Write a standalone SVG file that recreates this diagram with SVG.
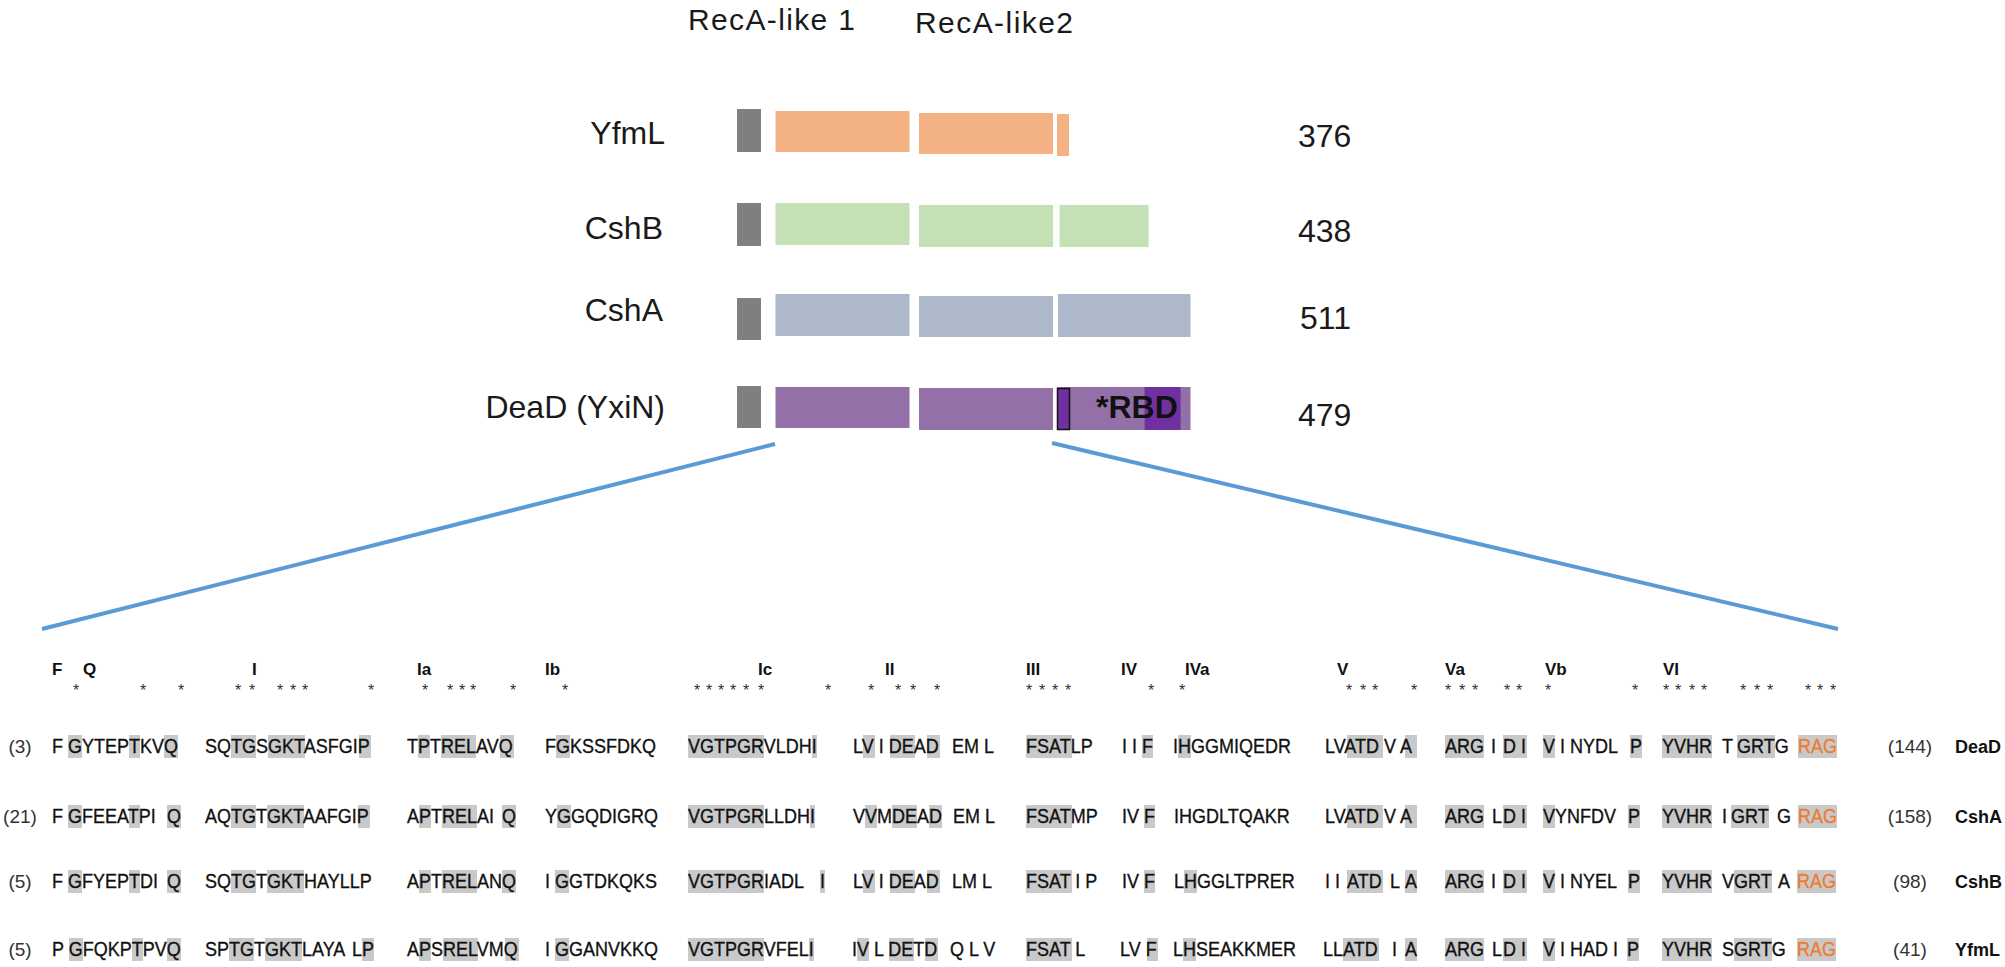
<svg xmlns="http://www.w3.org/2000/svg" width="2005" height="967" viewBox="0 0 2005 967">
<style>
text{font-family:"Liberation Sans",Arial,sans-serif;fill:#111}
.s{font-size:18px;stroke:#111;stroke-width:0.3}
.o{fill:#ED7D31;stroke:#ED7D31}
.h{fill:#C9C9C9}
.n{font-size:19px;fill:#333;text-anchor:middle}
.nm{font-size:18px;font-weight:bold}
.m{font-size:17px;font-weight:bold}
.a{font-size:16px;fill:#333}
.lbl{font-size:32px;text-anchor:end;fill:#1a1a1a}
.len{font-size:32px;fill:#1a1a1a}
.ttl{font-size:30px;fill:#1a1a1a}
.gb{fill:#7F7F7F}
.yf{fill:#F4B183}
.cb{fill:#C5E0B4}
.ca{fill:#ADB9CA}
.dd{fill:#9370A8}
.dk{fill:#7030A0}
.ln{stroke:#5B9BD5;stroke-width:4;fill:none}
</style>

<text class="ttl" x="688" y="30" textLength="167" lengthAdjust="spacing">RecA-like 1</text>
<text class="ttl" x="915" y="33" textLength="158" lengthAdjust="spacing">RecA-like2</text>

<g id="YfmL">
<text class="lbl" x="665" y="144">YfmL</text>
<rect class="gb" x="737" y="109" width="24" height="43"/>
<rect class="yf" x="775.5" y="111" width="134" height="41"/>
<rect class="yf" x="919" y="113" width="134" height="41"/>
<rect class="yf" x="1057" y="114" width="12" height="42"/>
<text class="len" x="1298" y="147">376</text>
</g>

<g id="CshB">
<text class="lbl" x="663" y="239">CshB</text>
<rect class="gb" x="737" y="203" width="24" height="43"/>
<rect class="cb" x="775.5" y="203" width="134" height="42"/>
<rect class="cb" x="919" y="205" width="134" height="42"/>
<rect class="cb" x="1059.6" y="205" width="89" height="42"/>
<text class="len" x="1298" y="242">438</text>
</g>

<g id="CshA">
<text class="lbl" x="663" y="321">CshA</text>
<rect class="gb" x="737" y="298" width="24" height="42"/>
<rect class="ca" x="775.5" y="294" width="134" height="42"/>
<rect class="ca" x="919" y="296" width="134" height="41"/>
<rect class="ca" x="1058" y="294" width="132.5" height="43"/>
<text class="len" x="1300" y="329">511</text>
</g>

<g id="DeaD">
<text class="lbl" x="665" y="418">DeaD (YxiN)</text>
<rect class="gb" x="737" y="386" width="24" height="42"/>
<rect class="dd" x="775.5" y="387" width="134" height="41"/>
<rect class="dd" x="919" y="388" width="134" height="42"/>
<rect class="dd" x="1057" y="387" width="133.5" height="43"/>
<rect class="dk" x="1144.6" y="387" width="36" height="43"/>
<rect class="dk" x="1057.5" y="388.5" width="12" height="41" stroke="#111" stroke-width="1.5"/>
<text x="1096" y="418" font-size="32" font-weight="bold">*RBD</text>
<text class="len" x="1298" y="426">479</text>
</g>

<g id="connectors">
<line class="ln" x1="775" y1="444" x2="42" y2="629"/>
<line class="ln" x1="1052" y1="443" x2="1838" y2="629"/>
</g>

<g id="motifs">
<text class="m" y="675"><tspan x="52">F</tspan><tspan x="83">Q</tspan><tspan x="252">I</tspan><tspan x="417">Ia</tspan><tspan x="545">Ib</tspan><tspan x="758">Ic</tspan><tspan x="885">II</tspan><tspan x="1026">III</tspan><tspan x="1121">IV</tspan><tspan x="1185">IVa</tspan><tspan x="1337">V</tspan><tspan x="1445">Va</tspan><tspan x="1545">Vb</tspan><tspan x="1663">VI</tspan></text>
<text class="a" y="696" x="73 140 178 235 249 277 290 302 368 422 447 459 470 510 562 694 706 718 730 743 758 825 868 895 910 934 1026 1039 1052 1065 1148 1179 1346 1360 1372 1411 1445 1459 1472 1504 1516 1545 1632 1663 1675 1689 1701 1740 1754 1767 1805 1817 1830">*****************************************************</text>
</g>

<g id="row-DeaD">
<g class="h">
<rect x="68" y="735" width="14" height="23"/><rect x="129" y="735" width="11" height="23"/><rect x="164" y="735" width="14" height="23"/>
<rect x="231" y="735" width="25" height="23"/><rect x="268" y="735" width="37" height="23"/><rect x="359" y="735" width="12" height="23"/>
<rect x="418" y="735" width="12" height="23"/><rect x="441" y="735" width="35" height="23"/><rect x="500" y="735" width="14" height="23"/>
<rect x="556" y="735" width="14" height="23"/><rect x="688" y="735" width="76" height="23"/><rect x="812" y="735" width="5" height="23"/>
<rect x="863" y="735" width="12" height="23"/><rect x="890" y="735" width="25" height="23"/><rect x="927" y="735" width="13" height="23"/>
<rect x="1026" y="735" width="46" height="23"/><rect x="1142" y="735" width="11" height="23"/><rect x="1178" y="735" width="13" height="23"/>
<rect x="1347" y="735" width="36" height="23"/><rect x="1405" y="735" width="12" height="23"/><rect x="1445" y="735" width="39" height="23"/>
<rect x="1503" y="735" width="24" height="23"/><rect x="1543" y="735" width="12" height="23"/><rect x="1630" y="735" width="12" height="23"/>
<rect x="1662" y="735" width="50" height="23"/><rect x="1737" y="735" width="38" height="23"/><rect x="1798" y="735" width="39" height="23"/>
</g>
<text class="n" x="20" y="753">(3)</text>
<text class="s" y="0" transform="matrix(1 0 0 1.12 0 753)"><tspan x="52">F GYTEPTKVQ</tspan><tspan x="205">SQTGSGKTASFGIP</tspan><tspan x="407">TPTRELAVQ</tspan><tspan x="545">FGKSSFDKQ</tspan><tspan x="688">VGTPGRVLDHI</tspan><tspan x="853">LV I DEAD</tspan><tspan x="952">EM L</tspan><tspan x="1026">FSATLP</tspan><tspan x="1122">I I F</tspan><tspan x="1173">IHGGMIQEDR</tspan><tspan x="1325">LVATD V A</tspan><tspan x="1445">ARG</tspan><tspan x="1491">I</tspan><tspan x="1503">D I</tspan><tspan x="1543">V I NYDL</tspan><tspan x="1630">P</tspan><tspan x="1662">YVHR</tspan><tspan x="1722">T</tspan><tspan x="1737">GRTG</tspan><tspan x="1798" class="o">RAG</tspan></text>
<text class="n" x="1910" y="753">(144)</text>
<text class="nm" x="1955" y="753">DeaD</text>
</g>

<g id="row-CshA">
<g class="h">
<rect x="68" y="805" width="14" height="23"/><rect x="129" y="805" width="11" height="23"/><rect x="167" y="805" width="14" height="23"/>
<rect x="231" y="805" width="25" height="23"/><rect x="267" y="805" width="37" height="23"/><rect x="358" y="805" width="12" height="23"/>
<rect x="419" y="805" width="12" height="23"/><rect x="442" y="805" width="35" height="23"/><rect x="502" y="805" width="14" height="23"/>
<rect x="557" y="805" width="14" height="23"/><rect x="688" y="805" width="76" height="23"/><rect x="810" y="805" width="5" height="23"/>
<rect x="865" y="805" width="12" height="23"/><rect x="892" y="805" width="25" height="23"/><rect x="929" y="805" width="13" height="23"/>
<rect x="1026" y="805" width="46" height="23"/><rect x="1144" y="805" width="11" height="23"/>
<rect x="1347" y="805" width="36" height="23"/><rect x="1405" y="805" width="12" height="23"/><rect x="1445" y="805" width="39" height="23"/>
<rect x="1503" y="805" width="24" height="23"/><rect x="1543" y="805" width="12" height="23"/><rect x="1628" y="805" width="12" height="23"/>
<rect x="1662" y="805" width="50" height="23"/><rect x="1731" y="805" width="38" height="23"/><rect x="1798" y="805" width="39" height="23"/>
</g>
<text class="n" x="20" y="823">(21)</text>
<text class="s" y="0" transform="matrix(1 0 0 1.12 0 823)"><tspan x="52">F GFEEATPI</tspan><tspan x="167">Q</tspan><tspan x="205">AQTGTGKTAAFGIP</tspan><tspan x="407">APTRELAI</tspan><tspan x="502">Q</tspan><tspan x="545">YGGQDIGRQ</tspan><tspan x="688">VGTPGRLLDHI</tspan><tspan x="853">VVMDEAD</tspan><tspan x="953">EM L</tspan><tspan x="1026">FSATMP</tspan><tspan x="1122">IV F</tspan><tspan x="1174">IHGDLTQAKR</tspan><tspan x="1325">LVATD V A</tspan><tspan x="1445">ARG</tspan><tspan x="1492">L</tspan><tspan x="1503">D I</tspan><tspan x="1543">VYNFDV</tspan><tspan x="1628">P</tspan><tspan x="1662">YVHR</tspan><tspan x="1722">I</tspan><tspan x="1731">GRT</tspan><tspan x="1777">G</tspan><tspan x="1798" class="o">RAG</tspan></text>
<text class="n" x="1910" y="823">(158)</text>
<text class="nm" x="1955" y="823">CshA</text>
</g>

<g id="row-CshB">
<g class="h">
<rect x="68" y="870" width="14" height="23"/><rect x="129" y="870" width="11" height="23"/><rect x="167" y="870" width="14" height="23"/>
<rect x="231" y="870" width="25" height="23"/><rect x="267" y="870" width="37" height="23"/>
<rect x="419" y="870" width="12" height="23"/><rect x="442" y="870" width="35" height="23"/><rect x="502" y="870" width="14" height="23"/>
<rect x="555" y="870" width="14" height="23"/><rect x="688" y="870" width="76" height="23"/><rect x="820" y="870" width="5" height="23"/>
<rect x="863" y="870" width="12" height="23"/><rect x="890" y="870" width="25" height="23"/><rect x="927" y="870" width="13" height="23"/>
<rect x="1026" y="870" width="46" height="23"/><rect x="1144" y="870" width="11" height="23"/><rect x="1184" y="870" width="13" height="23"/>
<rect x="1347" y="870" width="36" height="23"/><rect x="1405" y="870" width="12" height="23"/><rect x="1445" y="870" width="39" height="23"/>
<rect x="1503" y="870" width="24" height="23"/><rect x="1543" y="870" width="12" height="23"/><rect x="1628" y="870" width="12" height="23"/>
<rect x="1662" y="870" width="50" height="23"/><rect x="1734" y="870" width="38" height="23"/><rect x="1797" y="870" width="39" height="23"/>
</g>
<text class="n" x="20" y="888">(5)</text>
<text class="s" y="0" transform="matrix(1 0 0 1.12 0 888)"><tspan x="52">F GFYEPTDI</tspan><tspan x="167">Q</tspan><tspan x="205">SQTGTGKTHAYLLP</tspan><tspan x="407">APTRELANQ</tspan><tspan x="545">I GGTDKQKS</tspan><tspan x="688">VGTPGRIADL</tspan><tspan x="820">I</tspan><tspan x="853">LV I DEAD</tspan><tspan x="952">LM L</tspan><tspan x="1026">FSAT I P</tspan><tspan x="1122">IV F</tspan><tspan x="1174">LHGGLTPRER</tspan><tspan x="1325">I I</tspan><tspan x="1347">ATD</tspan><tspan x="1390">L</tspan><tspan x="1405">A</tspan><tspan x="1445">ARG</tspan><tspan x="1491">I</tspan><tspan x="1503">D I</tspan><tspan x="1543">V I NYEL</tspan><tspan x="1628">P</tspan><tspan x="1662">YVHR</tspan><tspan x="1722">VGRT</tspan><tspan x="1778">A</tspan><tspan x="1797" class="o">RAG</tspan></text>
<text class="n" x="1910" y="888">(98)</text>
<text class="nm" x="1955" y="888">CshB</text>
</g>

<g id="row-YfmL">
<g class="h">
<rect x="69" y="938" width="14" height="23"/><rect x="132" y="938" width="11" height="23"/><rect x="167" y="938" width="14" height="23"/>
<rect x="229" y="938" width="25" height="23"/><rect x="265" y="938" width="37" height="23"/><rect x="362" y="938" width="12" height="23"/>
<rect x="419" y="938" width="12" height="23"/><rect x="443" y="938" width="35" height="23"/><rect x="505" y="938" width="14" height="23"/>
<rect x="555" y="938" width="14" height="23"/><rect x="688" y="938" width="76" height="23"/><rect x="809" y="938" width="5" height="23"/>
<rect x="857" y="938" width="12" height="23"/><rect x="889" y="938" width="25" height="23"/><rect x="925" y="938" width="13" height="23"/>
<rect x="1026" y="938" width="46" height="23"/><rect x="1147" y="938" width="11" height="23"/><rect x="1183" y="938" width="13" height="23"/>
<rect x="1343" y="938" width="36" height="23"/><rect x="1405" y="938" width="12" height="23"/><rect x="1445" y="938" width="39" height="23"/>
<rect x="1503" y="938" width="24" height="23"/><rect x="1543" y="938" width="12" height="23"/><rect x="1627" y="938" width="12" height="23"/>
<rect x="1662" y="938" width="50" height="23"/><rect x="1734" y="938" width="38" height="23"/><rect x="1797" y="938" width="39" height="23"/>
</g>
<text class="n" x="20" y="956">(5)</text>
<text class="s" y="0" transform="matrix(1 0 0 1.12 0 956)"><tspan x="52">P GFQKPTPVQ</tspan><tspan x="205">SPTGTGKTLAYA</tspan><tspan x="352">LP</tspan><tspan x="407">APSRELVMQ</tspan><tspan x="545">I GGANVKKQ</tspan><tspan x="688">VGTPGRVFELI</tspan><tspan x="852">IV L DETD</tspan><tspan x="950">Q L V</tspan><tspan x="1026">FSAT L</tspan><tspan x="1120">LV F</tspan><tspan x="1173">LHSEAKKMER</tspan><tspan x="1323">LLATD</tspan><tspan x="1392">I</tspan><tspan x="1405">A</tspan><tspan x="1445">ARG</tspan><tspan x="1492">L</tspan><tspan x="1503">D I</tspan><tspan x="1543">V I HAD I</tspan><tspan x="1627">P</tspan><tspan x="1662">YVHR</tspan><tspan x="1722">SGRTG</tspan><tspan x="1797" class="o">RAG</tspan></text>
<text class="n" x="1910" y="956">(41)</text>
<text class="nm" x="1955" y="956">YfmL</text>
</g>
</svg>
